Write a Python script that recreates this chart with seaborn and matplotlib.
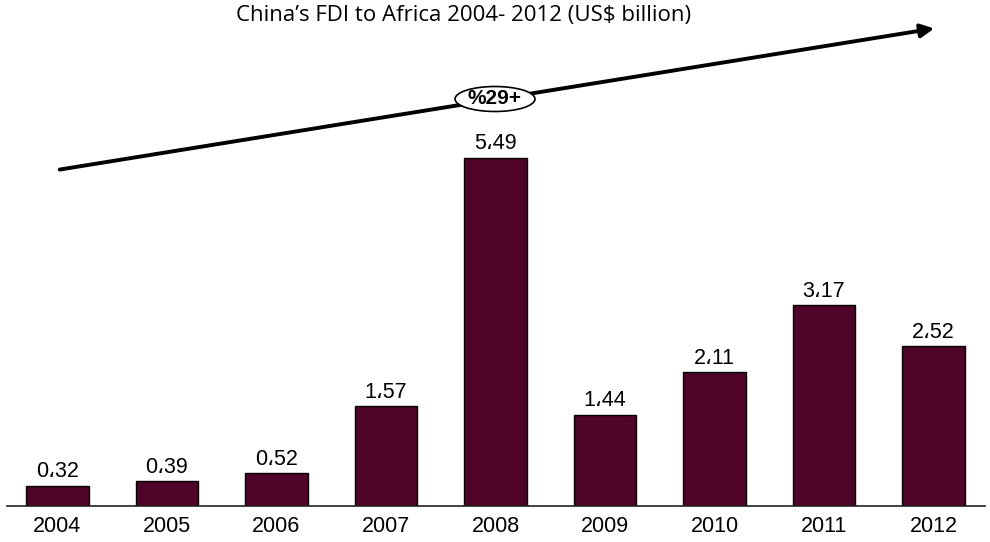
import matplotlib.pyplot as plt
import seaborn as sns
import pandas as pd
from matplotlib.patches import Ellipse, FancyArrowPatch

years = ["2004", "2005", "2006", "2007", "2008", "2009", "2010", "2011", "2012"]
fdi = [0.32, 0.39, 0.52, 1.57, 5.49, 1.44, 2.11, 3.17, 2.52]
bar_labels = ["0،32", "0،39", "0،52", "1،57", "5،49", "1،44", "2،11", "3،17", "2،52"]
title = "China\u2019s FDI to Africa 2004- 2012 (US$ billion)"
growth = "%29+"

df = pd.DataFrame({"year": years, "fdi": fdi})

sns.set_theme(style="white")
plt.rcParams['font.family'] = ['Liberation Sans', 'DejaVu Sans']
plt.rcParams['text.color'] = 'black'

fig = plt.figure(figsize=(9.9, 5.42), dpi=100)
ax = fig.add_axes([0.007, 36 / 542, 0.988, 506 / 542])

sns.barplot(data=df, x="year", y="fdi", color="#50042A", saturation=1,
            width=0.57, edgecolor="black", linewidth=1, ax=ax)

for i, (v, lab) in enumerate(zip(fdi, bar_labels)):
    ax.annotate(lab, (i, v), xytext=(0, 2.5), textcoords="offset points",
                ha="center", va="bottom", fontsize=15.5, color="black")

ax.set_xlim(-0.46, 8.47)
ax.set_ylim(0, 506 / 63.4)
ax.set_xlabel("")
ax.set_ylabel("")
ax.set_yticks([])
ax.tick_params(axis="x", length=0, pad=7, labelsize=15.5, colors="black")
for s in ["top", "left", "right"]:
    ax.spines[s].set_visible(False)
ax.spines["bottom"].set_color("#222222")
ax.spines["bottom"].set_linewidth(1.2)

# trend arrow and growth bubble (figure pixel coords)
def px(x, y):
    return (x / 990, 1 - y / 542)

fig.text(*px(464, 16), title, ha="center", va="center", fontsize=16,
         family=['Open Sans', 'DejaVu Sans'], color="black")
fig.patches.append(FancyArrowPatch(
    px(57, 170), px(937, 28), transform=fig.transFigure,
    arrowstyle="-|>,head_length=8,head_width=4", color="black", lw=2.8,
    mutation_scale=1))
fig.patches.append(Ellipse(px(495, 99), 80 / 990, 25 / 542,
                           transform=fig.transFigure, facecolor="white",
                           edgecolor="black", lw=1.2, zorder=5))
fig.text(*px(495, 99), growth, ha="center", va="center", fontsize=15,
         fontweight="bold", color="black", zorder=6)

fig.savefig("out.png", dpi=100)
